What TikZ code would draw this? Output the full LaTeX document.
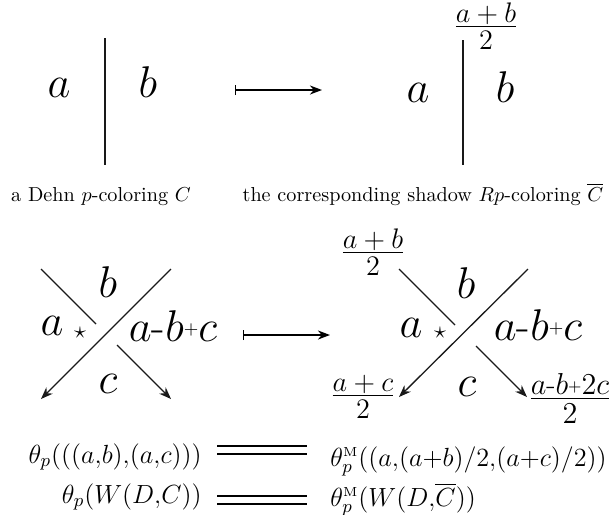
\RequirePackage{fix-cm}
\documentclass[tikz,border=0pt]{standalone}
\usepackage{amsmath}
\usepackage{amssymb}
\usepackage{tikz}
\usetikzlibrary{arrows.meta}

\newcommand{\halfof}[1]{\frac{\textstyle #1}{\textstyle 2\vphantom{(}}}

\begin{document}
\begin{tikzpicture}[
    x=0.495pt, y=-0.495pt,
    letter/.style={font=\fontsize{22}{26}\selectfont, inner sep=0pt, anchor=base},
    frac/.style={font=\fontsize{14}{16}\selectfont, inner sep=0pt},
    caption/.style={font=\normalsize, inner sep=0pt, anchor=base},
    formula/.style={font=\fontsize{13}{15.5}\selectfont, inner sep=0pt},
    startag/.style={font=\fontsize{12}{14}\selectfont, inner sep=0pt},
    strand/.style={line width=0.65pt, draw=black!90},
    arrow/.style={strand, -{Stealth[length=6pt, width=4.5pt]}},
    mapsto/.style={line width=0.7pt, {Bar[width=5pt]}-{Stealth[length=6pt, width=4.5pt]}},
    equal/.style={double, line width=0.8pt, double distance=2.9pt}
]
\useasboundingbox (0,0) rectangle (613,514);

\node[letter] (a1) at (59,97) {$a$};
\node[letter] (b1) at (148,97) {$b$};
\coordinate (s1t) at (105,38);
\coordinate (s1b) at (105,165);
\draw[strand] (s1t) -- (s1b);

\coordinate (m1s) at (235,90);
\coordinate (m1e) at (322,90);
\draw[mapsto] (m1s) -- (m1e);

\node[letter] (a2) at (418,102) {$a$};
\node[letter] (b2) at (505,102) {$b$};
\node[frac] (ab2) at (486,30) {$\halfof{a+b}$};
\coordinate (s2t) at (463,40);
\coordinate (s2b) at (463,165);
\draw[strand] (s2t) -- (s2b);

\node[caption] (cap1) at (101,201) {a Dehn $p$-coloring $C$};
\node[caption] (cap2) at (423,201) {the corresponding shadow $Rp$-coloring $\overline{C}$};

\coordinate (ul1) at (41,269);
\coordinate (ug1) at (96,324);
\coordinate (lg1) at (117,345);
\coordinate (lr1) at (171,399);
\coordinate (ur1) at (171,269);
\coordinate (ll1) at (41,399);
\draw[strand] (ul1) -- (ug1);
\draw[arrow] (lg1) -- (lr1);
\draw[arrow] (ur1) -- (ll1);

\node[letter] (b3) at (108,297) {$b$};
\node[letter] (a3) at (52,335) {$a$};
\node[startag] (st3) at (80,333) {$\star$};
\node[letter] (r3) at (173,341) {$a$-$b$\raisebox{0.35ex}{\small$+$}$c$};
\node[letter] (c3) at (108,393) {$c$};

\coordinate (m2s) at (243,335);
\coordinate (m2e) at (330,335);
\draw[mapsto] (m2s) -- (m2e);

\coordinate (ul4) at (399,269);
\coordinate (ug4) at (455,325);
\coordinate (lg4) at (476,346);
\coordinate (lr4) at (527,397);
\coordinate (ur4) at (528,269);
\coordinate (ll4) at (399,397);
\draw[strand] (ul4) -- (ug4);
\draw[arrow] (lg4) -- (lr4);
\draw[arrow] (ur4) -- (ll4);

\node[frac] (ab4) at (373,256) {$\halfof{a+b}$};
\node[letter] (b4) at (466,298) {$b$};
\node[letter] (a4) at (411,337) {$a$};
\node[startag] (st4) at (440,333) {$\star$};
\node[letter] (r4) at (538,340) {$a$-$b$\raisebox{0.35ex}{\small$+$}$c$};
\node[letter] (c4) at (467,396) {$c$};
\node[frac] (ac4) at (363,400) {$\halfof{a+c}$};
\node[frac, font=\fontsize{15}{17}\selectfont] (abc4) at (570,402) {$\halfof{a\text{-}b\raisebox{0.25ex}{\footnotesize$+$}2c}$};

\node[formula, anchor=base east] (lhs1) at (202,463) {$\theta_p(((a{,}b){,}(a{,}c)))$};
\node[formula, anchor=base west] (rhs1) at (330,466) {$\theta_p^{\scriptscriptstyle\mathrm{M}}((a{,}(a{+}b)/2{,}(a{+}c)/2))$};
\coordinate (e1s) at (217,450);
\coordinate (e1e) at (307,450);
\draw[equal] (e1s) -- (e1e);

\node[formula, anchor=base east] (lhs2) at (202,503) {$\theta_p(W(D{,}C))$};
\node[formula, anchor=base west] (rhs2) at (330,506) {$\theta_p^{\scriptscriptstyle\mathrm{M}}(W(D{,}\overline{C}))$};
\coordinate (e2s) at (217,500);
\coordinate (e2e) at (307,500);
\draw[equal] (e2s) -- (e2e);
\end{tikzpicture}
\end{document}
